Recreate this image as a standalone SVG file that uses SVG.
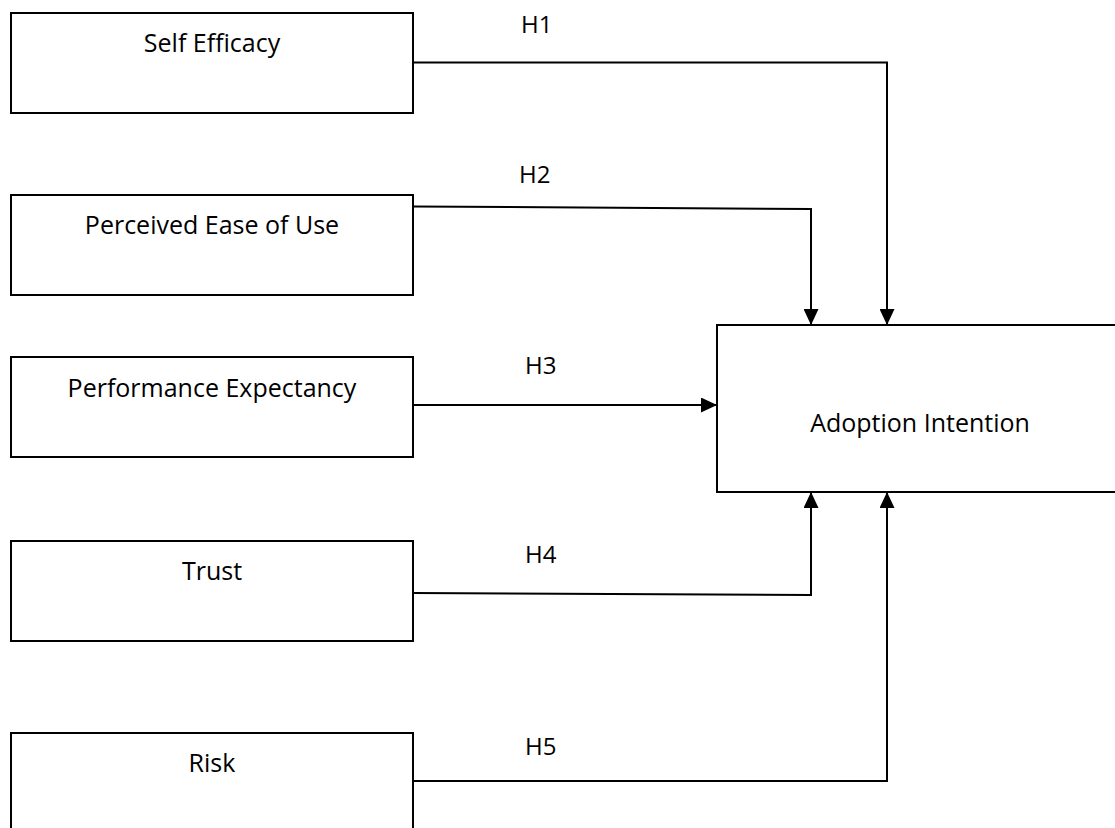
<svg xmlns="http://www.w3.org/2000/svg" width="1115" height="828" viewBox="0 0 1115 828">
  <style>
    .box { fill: #ffffff; stroke: #000000; stroke-width: 2; }
    .lbl { font-family: "Open Sans", "Liberation Sans", sans-serif; font-size: 25px; fill: #000000; text-anchor: middle; }
    .hyp { font-family: "Open Sans", "Liberation Sans", sans-serif; font-size: 24px; fill: #000000; }
    .conn { fill: none; stroke: #000000; stroke-width: 2; marker-end: url(#arrow); }
  </style>
  <defs>
    <marker id="arrow" markerUnits="userSpaceOnUse" markerWidth="16" markerHeight="15" refX="16" refY="7.5" orient="auto">
      <path d="M0,0 L16,7.5 L0,15 Z" fill="#000000"/>
    </marker>
  </defs>
  <rect width="1115" height="828" fill="#ffffff"/>

  <g id="self-efficacy">
    <rect class="box" x="11" y="13" width="402" height="100"/>
    <text class="lbl" x="212" y="52">Self Efficacy</text>
  </g>
  <g id="perceived-ease-of-use">
    <rect class="box" x="11" y="195" width="402" height="100"/>
    <text class="lbl" x="212" y="234">Perceived Ease of Use</text>
  </g>
  <g id="performance-expectancy">
    <rect class="box" x="11" y="357" width="402" height="100"/>
    <text class="lbl" x="212" y="397">Performance Expectancy</text>
  </g>
  <g id="trust">
    <rect class="box" x="11" y="541" width="402" height="100"/>
    <text class="lbl" x="212" y="580">Trust</text>
  </g>
  <g id="risk">
    <rect class="box" x="11" y="733" width="402" height="130"/>
    <text class="lbl" x="212" y="772">Risk</text>
  </g>
  <g id="adoption-intention">
    <rect class="box" x="717" y="325" width="410" height="167"/>
    <text class="lbl" x="920" y="432">Adoption Intention</text>
  </g>

  <g id="connectors">
    <path class="conn" d="M413,62.5 H887 V325"/>
    <path class="conn" d="M413,206.5 L811,209 V325"/>
    <path class="conn" d="M413,405 H717"/>
    <path class="conn" d="M413,593 L811,595 V492"/>
    <path class="conn" d="M413,781 H887 V492"/>
    <text class="hyp" x="521" y="33">H1</text>
    <text class="hyp" x="519" y="183">H2</text>
    <text class="hyp" x="525" y="374">H3</text>
    <text class="hyp" x="525" y="563">H4</text>
    <text class="hyp" x="525" y="755">H5</text>
  </g>
</svg>
